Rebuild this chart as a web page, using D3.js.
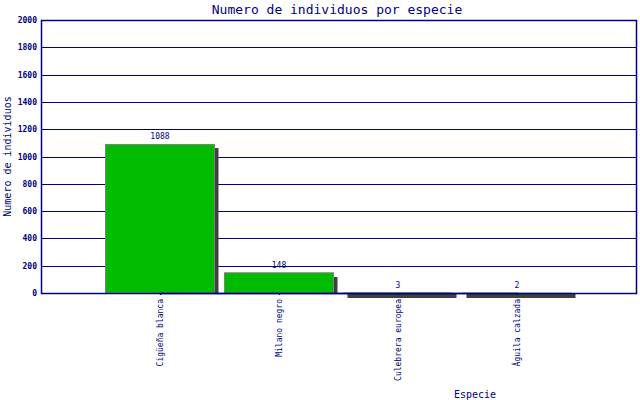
<!DOCTYPE html>
<html>
<head>
<meta charset="utf-8">
<script src="https://cdn.jsdelivr.net/npm/d3@7"></script>
<style>
  body { margin: 0; background: #fff; }
  text { font-family: "DejaVu Sans Mono", monospace; fill: #000080; }
</style>
</head>
<body>
<div id="chart"></div>
<script>
// data
var especies = ["Cigüeña blanca", "Milano negro", "Culebrera europea", "Águila calzada"];
var individuos = [1088, 148, 3, 2];
var yTicks = [0, 200, 400, 600, 800, 1000, 1200, 1400, 1600, 1800, 2000];

var W = 640, H = 400;
var margin = {top: 20, right: 4, bottom: 107, left: 41},
    width = W - margin.left - margin.right,
    height = H - margin.top - margin.bottom;

var svg = d3.select("#chart").append("svg")
    .attr("width", W)
    .attr("height", H);

var g = svg.append("g")
    .attr("transform", "translate(" + margin.left + "," + margin.top + ")");

// scales
var x = d3.scalePoint()
    .domain(especies)
    .range([width / 5, width * 4 / 5]);
var barW = 109;

var y = d3.scaleLinear()
    .domain([0, 2000])
    .range([height, 0]);

// gridlines
g.append("g")
  .selectAll("line")
  .data(yTicks)
  .enter().append("line")
    .attr("x1", 0).attr("x2", width)
    .attr("y1", function(d) { return Math.round(y(d)) + 0.5; })
    .attr("y2", function(d) { return Math.round(y(d)) + 0.5; })
    .attr("stroke", "#000080")
    .attr("stroke-width", 1);

// y axis labels
var yAxis = d3.axisLeft(y).tickValues(yTicks).tickSize(0).tickPadding(4).tickFormat(d3.format("d"));
g.append("g")
    .call(yAxis)
    .call(function(a) { a.select(".domain").remove(); })
  .selectAll("text")
    .style("font-size", "8px")
    .style("font-weight", "bold")
    .attr("fill", "#000080");

// shadows (offset 4px, pixel-inclusive like the original renderer)
function shadowTop(d) { return Math.round(y(d)) + 4; }
g.append("g")
  .selectAll("rect")
  .data(individuos)
  .enter().append("rect")
    .attr("x", function(d, i) { return x(especies[i]) - barW / 2 + 4; })
    .attr("y", function(d) { return Math.min(shadowTop(d), y(0)); })
    .attr("width", barW)
    .attr("height", function(d) { return Math.abs(y(0) - shadowTop(d)) + 1; })
    .attr("fill", "#404040");

// bars
g.append("g")
  .selectAll("rect")
  .data(individuos)
  .enter().append("rect")
    .attr("x", function(d, i) { return x(especies[i]) - barW / 2; })
    .attr("y", function(d) { return y(d); })
    .attr("width", barW)
    .attr("height", function(d) { return y(0) - y(d); })
    .attr("fill", "#00bb00")
    .attr("stroke", function(d) { return y(0) - y(d) > 2 ? "#808080" : "none"; })
    .attr("stroke-width", 1);

// value labels
g.append("g")
  .selectAll("text")
  .data(individuos)
  .enter().append("text")
    .attr("x", function(d, i) { return x(especies[i]); })
    .attr("y", function(d) { return y(d) - 5; })
    .attr("text-anchor", "middle")
    .style("font-size", "8px")
    .text(function(d) { return d; });

// frame
g.append("rect")
    .attr("x", 0.5).attr("y", 0.5)
    .attr("width", width).attr("height", height)
    .attr("fill", "none")
    .attr("stroke", "#000080")
    .attr("stroke-width", 1.5);

// x axis
var xAxis = d3.axisBottom(x).tickSize(2).tickPadding(3);
var xg = g.append("g")
    .attr("transform", "translate(0," + height + ")")
    .call(xAxis);
xg.select(".domain").attr("stroke", "#000080").attr("stroke-width", 1.5);
xg.selectAll(".tick line").attr("stroke", "#000080");
xg.selectAll("text")
    .style("font-size", "8px")
    .attr("fill", "#000080")
    .attr("transform", "rotate(-90)")
    .attr("text-anchor", "end")
    .attr("x", -6)
    .attr("y", 0)
    .attr("dy", "0.32em");

// title
svg.append("text")
    .attr("x", W / 2 + 17)
    .attr("y", 14)
    .attr("text-anchor", "middle")
    .style("font-size", "13px")
    .text("Numero de individuos por especie");

// axis titles
svg.append("text")
    .attr("transform", "translate(11," + (margin.top + height / 2) + ") rotate(-90)")
    .attr("text-anchor", "middle")
    .style("font-size", "10px")
    .text("Numero de individuos");

svg.append("text")
    .attr("x", 475)
    .attr("y", 398)
    .attr("text-anchor", "middle")
    .style("font-size", "10px")
    .text("Especie");
</script>
</body>
</html>
